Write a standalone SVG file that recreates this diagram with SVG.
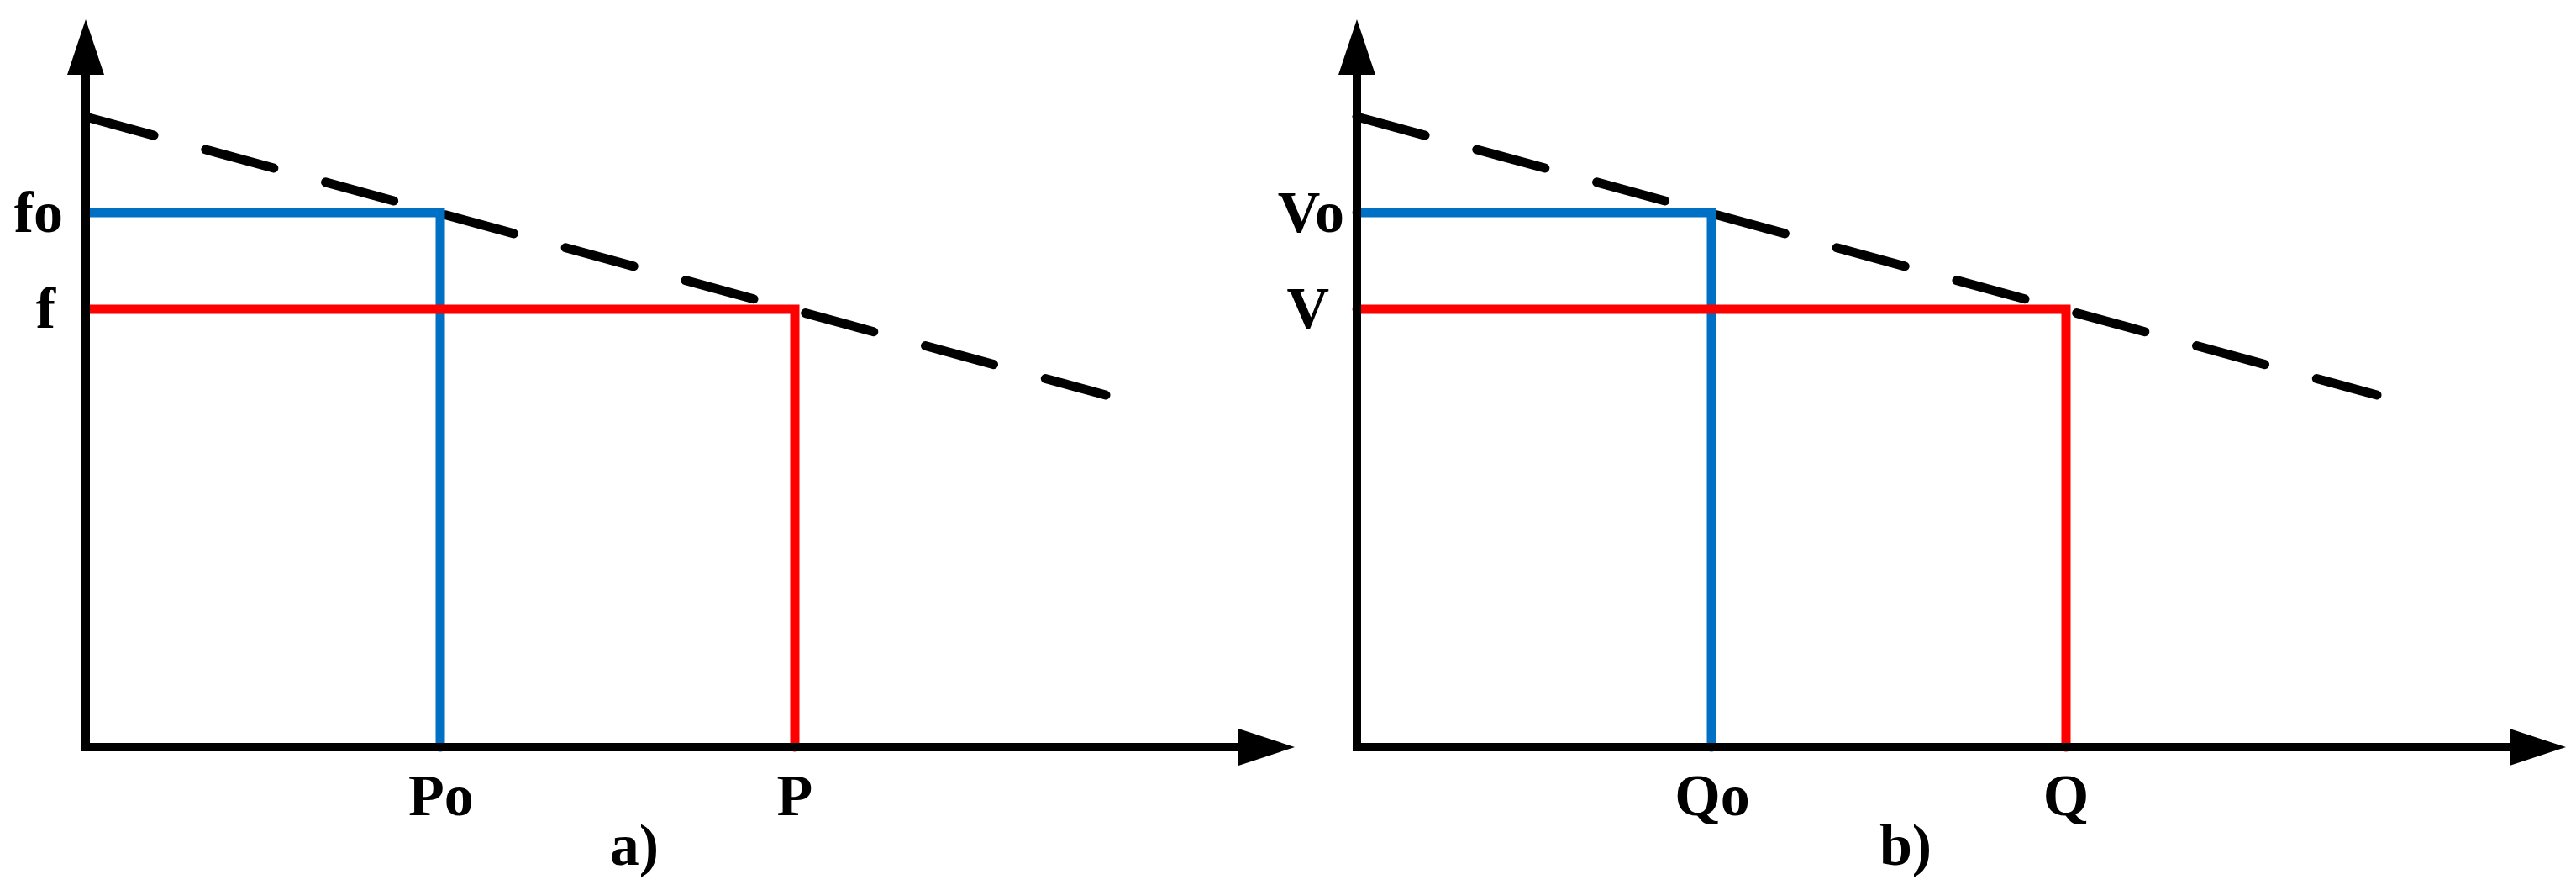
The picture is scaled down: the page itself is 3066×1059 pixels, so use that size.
<svg xmlns="http://www.w3.org/2000/svg" width="3066" height="1059" viewBox="0 0 3066 1059">
<style>
.ax{stroke:#000;stroke-width:10;fill:none;stroke-linecap:round}
.dash{stroke:#000;stroke-width:11;fill:none;stroke-linecap:round;stroke-dasharray:84 64}
.blue{stroke:#0070C5;stroke-width:11;fill:none;stroke-linecap:round}
.red{stroke:#FF0000;stroke-width:11;fill:none;stroke-linecap:round}
.ah{fill:#000}
text{font-family:"Liberation Serif","Times New Roman",serif;font-weight:bold;font-size:70px;fill:#000}
</style>
<rect width="3066" height="1059" fill="#fff"/>
<g id="panel-a">
<g id="connectors-a">
<path class="dash" d="M102,139 L1316,470"/>
<path class="blue" d="M102,253 H524 V889"/>
<path class="red" d="M102,368 H946 V889"/>
<path class="ax" d="M102,89 V889 H1478"/>
<polygon class="ah" points="102,23 124,89 80,89"/>
<polygon class="ah" points="1541,889 1474,867 1474,911"/>
</g>
<g id="labels-a">
<text x="75" y="276" text-anchor="end">fo</text>
<text x="66" y="390" text-anchor="end">f</text>
<text x="525" y="970" text-anchor="middle">Po</text>
<text x="946" y="970" text-anchor="middle">P</text>
<text x="755" y="1029" text-anchor="middle">a)</text>
</g>
</g>
<g id="panel-b" transform="translate(1513,0)">
<g id="connectors-b">
<path class="dash" d="M102,139 L1316,470"/>
<path class="blue" d="M102,253 H524 V889"/>
<path class="red" d="M102,368 H946 V889"/>
<path class="ax" d="M102,89 V889 H1478"/>
<polygon class="ah" points="102,23 124,89 80,89"/>
<polygon class="ah" points="1541,889 1474,867 1474,911"/>
</g>
<g id="labels-b">
<text x="87" y="276" text-anchor="end">Vo</text>
<text x="69" y="390" text-anchor="end">V</text>
<text x="525" y="970" text-anchor="middle">Qo</text>
<text x="946" y="970" text-anchor="middle">Q</text>
<text x="755" y="1029" text-anchor="middle">b)</text>
</g>
</g>
</svg>
